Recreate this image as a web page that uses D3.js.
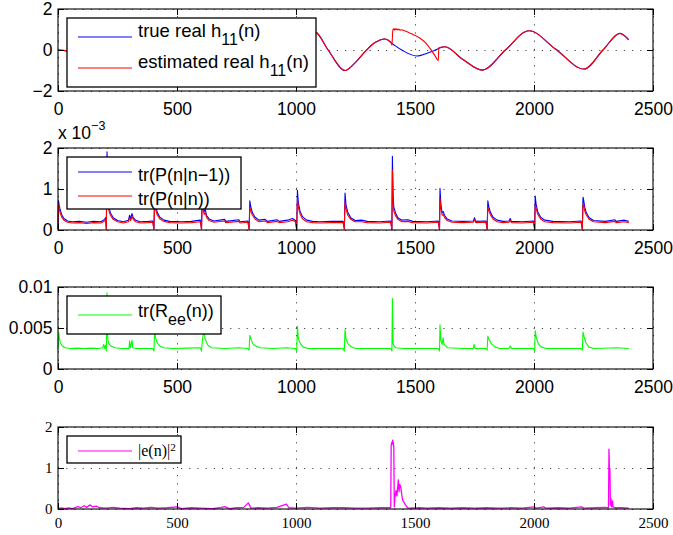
<!DOCTYPE html>
<html>
<head>
<meta charset="utf-8">
<script src="https://cdn.jsdelivr.net/npm/d3@7"></script>
<style>
  body { margin: 0; background: #fff; }
  svg { display: block; }
</style>
</head>
<body>
<svg id="chart" width="673" height="535"></svg>
<script>
// ---- dane ----
const xTicks = [0, 500, 1000, 1500, 2000, 2500];

// panel 1: Re h11(n), punkty węzłowe [n, wartość]
const hTrue = [[0,0.0],[30,-0.03],[60,-0.15],[180,-0.85],[300,-0.3],[420,0.75],[560,0.2],[700,-0.8],[860,-0.1],
  [1040,0.97],[1084,0.86],[1135,0.0],[1206,-1.0],[1250,-0.6],[1290,-0.08],[1330,0.35],[1374,0.54],[1406,0.29],
  [1444,0.0],[1507,-0.29],[1565,-0.1],[1626,0.16],[1700,-0.45],[1783,-0.98],[1880,0.0],[1979,0.94],[2090,0.05],
  [2210,-0.93],[2290,0.0],[2361,0.81],[2398,0.49]];
// fragment estymaty odbiegający od prawdziwej wartości (1398..1626)
const hEstJump = [[1398,0.4],[1403,0.24],[1405,0.6],[1407,0.98],[1410,1.04],[1413,0.97],[1416,1.05],[1419,0.99],
  [1423,1.03],[1427,0.98],[1432,1.02],[1437,0.97],[1442,0.99],[1450,0.96],[1480,0.82],[1521,0.57],[1545,0.35],
  [1563,0.08],[1585,-0.3],[1598,-0.52],[1600,0.11],[1626,0.16]];

// panel 2: tr(P), w jednostkach 1e-3
const trPpred = [[0,0.02],[2,0.72],[5,0.6],[9,0.5],[15,0.38],[25,0.28],[40,0.22],[60,0.2],[90,0.21],[120,0.19],[150,0.21],
  [180,0.2],[196,0.26],[200,0.3],[203,0.02],[206,1.91],[209,0.9],[213,0.6],[220,0.42],[232,0.3],[250,0.23],[275,0.2],
  [296,0.24],[301,0.36],[305,0.27],[311,0.4],[316,0.3],[326,0.24],[345,0.2],[380,0.21],[398,0.22],[403,0.02],[406,0.85],
  [410,0.6],[417,0.43],[428,0.31],[445,0.24],[470,0.21],[520,0.2],[560,0.21],[598,0.24],[603,0.02],[606,0.9],[609,0.62],
  [614,0.45],[619,0.5],[624,0.36],[635,0.27],[655,0.22],[700,0.26],[705,0.21],[760,0.25],[765,0.2],[798,0.22],[803,0.02],
  [806,0.71],[810,0.57],[817,0.42],[828,0.31],[845,0.24],[870,0.26],[880,0.21],[920,0.25],[930,0.21],[965,0.24],[985,0.28],
  [998,0.23],[1003,0.01],[1006,0.97],[1010,0.66],[1017,0.46],[1028,0.32],[1045,0.24],[1070,0.21],[1100,0.2],[1150,0.21],
  [1198,0.21],[1203,0.03],[1206,0.9],[1210,0.62],[1217,0.44],[1230,0.3],[1248,0.23],[1275,0.24],[1300,0.21],[1350,0.2],
  [1398,0.22],[1403,0.01],[1405,1.8],[1408,0.85],[1411,0.55],[1418,0.42],[1428,0.3],[1445,0.24],[1470,0.25],[1490,0.21],
  [1550,0.2],[1598,0.22],[1603,0.01],[1605,1.02],[1609,0.62],[1614,0.42],[1619,0.45],[1624,0.36],[1635,0.27],[1655,0.22],
  [1700,0.21],[1745,0.22],[1750,0.3],[1755,0.21],[1798,0.22],[1803,0.02],[1806,0.71],[1810,0.57],[1817,0.43],[1828,0.31],
  [1845,0.24],[1870,0.21],[1895,0.22],[1900,0.28],[1905,0.21],[1950,0.2],[1998,0.22],[2003,0.01],[2005,0.83],[2009,0.62],
  [2016,0.44],[2028,0.31],[2045,0.24],[2080,0.21],[2150,0.2],[2198,0.22],[2203,0.02],[2206,0.8],[2209,0.72],[2213,0.56],
  [2220,0.42],[2232,0.3],[2250,0.23],[2300,0.21],[2340,0.25],[2345,0.21],[2380,0.24],[2398,0.21]];
const trPfilt = [[0,0.02],[2,0.62],[5,0.52],[9,0.42],[15,0.32],[25,0.24],[40,0.19],[60,0.17],[90,0.18],[120,0.16],[150,0.18],
  [180,0.17],[196,0.22],[200,0.26],[203,0.02],[206,1.5],[209,0.75],[213,0.5],[220,0.36],[232,0.26],[250,0.2],[275,0.17],
  [296,0.2],[301,0.3],[305,0.23],[311,0.33],[316,0.26],[326,0.2],[345,0.17],[380,0.18],[398,0.19],[403,0.02],[406,0.7],
  [410,0.5],[417,0.37],[428,0.27],[445,0.21],[470,0.18],[520,0.17],[560,0.18],[598,0.2],[603,0.02],[606,0.74],[609,0.53],
  [614,0.38],[619,0.43],[624,0.31],[635,0.23],[655,0.19],[700,0.22],[705,0.18],[760,0.21],[765,0.17],[798,0.19],[803,0.02],
  [806,0.55],[810,0.47],[817,0.36],[828,0.27],[845,0.2],[870,0.22],[880,0.18],[920,0.21],[930,0.18],[965,0.2],[985,0.24],
  [998,0.2],[1003,0.01],[1006,0.76],[1010,0.55],[1017,0.39],[1028,0.27],[1045,0.2],[1070,0.18],[1100,0.17],[1150,0.18],
  [1198,0.18],[1203,0.02],[1206,0.69],[1210,0.52],[1217,0.37],[1230,0.26],[1248,0.2],[1275,0.2],[1300,0.18],[1350,0.17],
  [1398,0.19],[1403,0.01],[1405,1.46],[1408,0.7],[1411,0.46],[1418,0.35],[1428,0.26],[1445,0.2],[1470,0.21],[1490,0.18],
  [1550,0.17],[1598,0.19],[1603,0.01],[1605,0.77],[1609,0.52],[1614,0.36],[1619,0.38],[1624,0.3],[1635,0.23],[1655,0.19],
  [1700,0.18],[1745,0.19],[1750,0.26],[1755,0.18],[1798,0.19],[1803,0.02],[1806,0.55],[1810,0.48],[1817,0.37],[1828,0.27],
  [1845,0.2],[1870,0.18],[1895,0.19],[1900,0.24],[1905,0.18],[1950,0.17],[1998,0.19],[2003,0.01],[2005,0.61],[2009,0.52],
  [2016,0.38],[2028,0.27],[2045,0.2],[2080,0.18],[2150,0.17],[2198,0.19],[2203,0.02],[2206,0.65],[2209,0.6],[2213,0.47],
  [2220,0.36],[2232,0.26],[2250,0.2],[2300,0.18],[2340,0.21],[2345,0.18],[2380,0.2],[2398,0.18]];

// panel 3: tr(Ree(n))
const trRee = [[0,0.0024],[3,0.0045],[6,0.0037],[10,0.0032],[18,0.0028],[30,0.0026],[50,0.0025],[80,0.00255],[110,0.0025],
  [140,0.00255],[170,0.0025],[188,0.0026],[192,0.0030],[196,0.0025],[200,0.0029],[203,0.0022],[206,0.0093],[209,0.0036],
  [214,0.0031],[222,0.0028],[240,0.0026],[270,0.0025],[298,0.0025],[301,0.0034],[304,0.0026],[311,0.0035],[314,0.0026],
  [330,0.0025],[398,0.0025],[403,0.0022],[406,0.0046],[410,0.0038],[417,0.0032],[428,0.0028],[445,0.0026],[480,0.0025],
  [540,0.00255],[598,0.0026],[603,0.0022],[606,0.0033],[610,0.0042],[614,0.0050],[617,0.0038],[622,0.0034],[630,0.0029],
  [645,0.0026],[700,0.0025],[760,0.0026],[798,0.0025],[803,0.0023],[806,0.0041],[810,0.0037],[818,0.0031],[830,0.0028],
  [850,0.0026],[900,0.0025],[960,0.0026],[998,0.0025],[1003,0.0022],[1006,0.0052],[1010,0.0037],[1018,0.0031],[1030,0.0027],
  [1050,0.0025],[1100,0.0025],[1198,0.0025],[1203,0.0022],[1206,0.0048],[1210,0.0037],[1218,0.0031],[1232,0.0027],
  [1250,0.0025],[1398,0.0025],[1403,0.0022],[1405,0.0086],[1408,0.0031],[1412,0.0028],[1420,0.0026],[1450,0.0025],
  [1598,0.0025],[1603,0.0022],[1605,0.0054],[1609,0.0035],[1614,0.0030],[1618,0.0038],[1622,0.0030],[1635,0.0026],
  [1700,0.0025],[1745,0.0025],[1748,0.0030],[1752,0.0025],[1798,0.0025],[1803,0.0023],[1806,0.0040],[1810,0.0037],
  [1820,0.0031],[1835,0.0027],[1855,0.0025],[1895,0.0025],[1900,0.0028],[1905,0.0025],[1998,0.0025],[2003,0.0022],
  [2005,0.0047],[2009,0.0039],[2018,0.0031],[2030,0.0027],[2050,0.0025],[2198,0.0025],[2203,0.0023],[2206,0.0045],
  [2210,0.0040],[2218,0.0032],[2230,0.0027],[2250,0.0025],[2350,0.0026],[2398,0.0025]];

// panel 4: |e(n)|^2
const errSq = [[0,0.01],[15,0.03],[30,0.01],[45,0.03],[60,0.01],[75,0.04],[85,0.06],[95,0.03],[110,0.08],[120,0.04],
  [135,0.1],[145,0.05],[160,0.07],[175,0.03],[200,0.02],[230,0.04],[260,0.02],[300,0.01],[330,0.03],[360,0.02],[390,0.04],
  [420,0.02],[460,0.03],[500,0.05],[520,0.01],[560,0.03],[600,0.02],[650,0.01],[680,0.03],[700,0.06],[720,0.01],[750,0.03],
  [780,0.04],[800,0.15],[810,0.02],[840,0.03],[880,0.02],[920,0.04],[960,0.12],[970,0.03],[1000,0.02],[1050,0.04],
  [1100,0.02],[1150,0.03],[1200,0.03],[1250,0.02],[1300,0.02],[1350,0.03],[1398,0.03],[1400,1.55],[1402,1.62],[1404,1.58],
  [1406,1.68],[1409,1.6],[1411,1.5],[1413,0.05],[1416,0.3],[1420,0.45],[1424,0.32],[1428,0.58],[1430,0.71],[1433,0.42],
  [1436,0.6],[1440,0.55],[1444,0.36],[1448,0.22],[1455,0.15],[1462,0.08],[1470,0.02],[1520,0.03],[1550,0.02],[1600,0.03],
  [1650,0.02],[1700,0.03],[1750,0.02],[1800,0.03],[1850,0.02],[1900,0.03],[1950,0.02],[2000,0.05],[2010,0.02],[2040,0.05],
  [2050,0.02],[2100,0.03],[2150,0.02],[2200,0.05],[2210,0.02],[2260,0.03],[2300,0.04],[2313,0.03],[2315,1.46],[2317,1.0],
  [2319,0.99],[2321,0.1],[2323,0.25],[2326,0.05],[2330,0.2],[2332,0.05],[2340,0.03],[2370,0.03],[2398,0.02]];

// estymata = prawdziwa poza skokiem
const hEst = hTrue.filter(d => d[0] < 1398)
  .concat(hEstJump)
  .concat(hTrue.filter(d => d[0] > 1626));

// ---- wygląd ----
const SANS = "'Liberation Sans', Arial, Helvetica, sans-serif";
const SERIF = "'Liberation Serif', 'Times New Roman', serif";
const LEFT = 58, RIGHT = 653, PH = 82;

const svg = d3.select("#chart");
const x = d3.scaleLinear().domain([0, 2500]).range([LEFT, RIGHT]);

const panels = [
  { top: 9, domain: [-2, 2], yTicks: [-2, 0, 2], font: SANS, size: 17.5,
    fmt: d => d < 0 ? "\u2212" + (-d) : String(d), curve: d3.curveMonotoneX,
    series: [{ data: hTrue, color: "#0000ff" }, { data: hEst, color: "#ff0000" }],
    legend: { x: 67, y: 18, w: 249, h: 69, dy: 0, lines: [37, 68], size: 18.5, sub: 16,
      items: [
        [{ t: "true real h" }, { t: "11", sub: 1 }, { t: "(n)" }],
        [{ t: "estimated real h" }, { t: "11", sub: 1 }, { t: "(n)" }]
      ] } },
  { top: 148, domain: [0, 2], yTicks: [0, 1, 2], font: SANS, size: 17.5,
    fmt: d => String(d), curve: d3.curveLinear,
    series: [{ data: trPpred, color: "#0000ff" }, { data: trPfilt, color: "#ff0000" }],
    legend: { x: 67, y: 157, w: 174, h: 52, dy: 8.5, lines: [172, 196],
      items: [
        [{ t: "tr(P(n|n\u22121))" }],
        [{ t: "tr(P(n|n))" }]
      ] } },
  { top: 287, domain: [0, 0.01], yTicks: [0, 0.005, 0.01], font: SANS, size: 17.5,
    fmt: d => String(d), curve: d3.curveLinear,
    series: [{ data: trRee, color: "#00ff00" }],
    legend: { x: 67, y: 296, w: 154, h: 38, dy: 2, lines: [315], sub: 16,
      items: [
        [{ t: "tr(R" }, { t: "ee", sub: 1 }, { t: "(n))" }]
      ] } },
  { top: 427, domain: [0, 2], yTicks: [0, 1, 2], font: SERIF, size: 15,
    fmt: d => String(d), curve: d3.curveLinear, width: 1.3,
    series: [{ data: errSq, color: "#ff00ff" }],
    legend: { x: 67, y: 436, w: 114, h: 27, dy: 4.5, lines: [451], size: 16,
      items: [
        [{ t: "|e(n)|" }, { t: "2", sup: 1 }]
      ] } }
];

panels.forEach(function(p) {
  const y = d3.scaleLinear().domain(p.domain).range([p.top + PH, p.top]);
  const g = svg.append("g");
  const bottom = p.top + PH;

  // siatka (kropkowana)
  const gridX = g.append("g").attr("transform", `translate(0,${bottom})`)
    .call(d3.axisBottom(x).tickValues(xTicks).tickSize(-PH).tickFormat(""));
  const gridY = g.append("g").attr("transform", `translate(${LEFT},0)`)
    .call(d3.axisLeft(y).tickValues(p.yTicks).tickSize(-(RIGHT - LEFT)).tickFormat(""));
  [gridX, gridY].forEach(gg => {
    gg.select(".domain").remove();
    gg.selectAll("line").attr("stroke", "#333").attr("stroke-width", 0.9).attr("stroke-dasharray", "1.2,7");
  });

  // linie danych
  const line = d3.line().x(d => x(d[0])).y(d => y(d[1])).curve(p.curve);
  p.series.forEach(s => {
    g.append("path").datum(s.data)
      .attr("fill", "none").attr("stroke", s.color)
      .attr("stroke-width", p.width || 1.1)
      .attr("stroke-linejoin", "round")
      .attr("d", line);
  });

  // osie z kreskami do środka
  const tickPadX = p.font === SERIF ? 8.5 : 11.3;
  const axB = g.append("g").attr("transform", `translate(0,${bottom})`)
    .call(d3.axisBottom(x).tickValues(xTicks).tickSizeInner(-6).tickSizeOuter(0).tickPadding(tickPadX).tickFormat(d3.format("d")));
  const axT = g.append("g").attr("transform", `translate(0,${p.top})`)
    .call(d3.axisTop(x).tickValues(xTicks).tickSizeInner(-6).tickSizeOuter(0).tickFormat(""));
  const axL = g.append("g").attr("transform", `translate(${LEFT},0)`)
    .call(d3.axisLeft(y).tickValues(p.yTicks).tickSizeInner(-6).tickSizeOuter(0).tickPadding(5.5).tickFormat(p.fmt));
  const axR = g.append("g").attr("transform", `translate(${RIGHT},0)`)
    .call(d3.axisRight(y).tickValues(p.yTicks).tickSizeInner(-6).tickSizeOuter(0).tickFormat(""));
  [axB, axT, axL, axR].forEach(a => {
    a.select(".domain").remove();
    a.selectAll("line").attr("stroke", "#000").attr("stroke-width", 1);
    a.selectAll("text").attr("fill", "#000").style("font-family", p.font).style("font-size", p.size + "px");
  });

  g.append("rect")
    .attr("x", LEFT).attr("y", p.top).attr("width", RIGHT - LEFT).attr("height", PH)
    .attr("fill", "none").attr("stroke", "#000").attr("stroke-width", 1.1);

  // legenda
  const L = p.legend;
  const lg = g.append("g");
  lg.append("rect").attr("x", L.x).attr("y", L.y).attr("width", L.w).attr("height", L.h)
    .attr("fill", "#fff").attr("stroke", "#000").attr("stroke-width", 1.3);
  const fs = L.size || 18;
  const subFs = L.sub || fs * 0.7;
  L.items.forEach((parts, i) => {
    const ly = L.lines[i];
    lg.append("line").attr("x1", 78).attr("x2", 132).attr("y1", ly).attr("y2", ly)
      .attr("stroke", p.series[i].color).attr("stroke-width", 1.1);
    const t = lg.append("text").attr("x", 138).attr("y", ly + L.dy)
      .style("font-family", p.font).style("font-size", fs + "px").attr("fill", "#000");
    let shift = 0;
    parts.forEach(part => {
      const ts = t.append("tspan").text(part.t);
      if (part.sub) { ts.style("font-size", subFs + "px").attr("dy", 8 - shift); shift = 8; }
      else if (part.sup) { ts.style("font-size", subFs + "px").attr("dy", -5 - shift); shift = -5; }
      else { if (shift) ts.attr("dy", -shift); shift = 0; }
    });
  });
});

// mnożnik osi panelu 2
const mult = svg.append("text").attr("x", 58).attr("y", 139)
  .style("font-family", SANS).style("font-size", "17.5px").attr("fill", "#000");
mult.append("tspan").text("x 10");
mult.append("tspan").attr("dy", -9).style("font-size", "12.5px").text("\u22123");
</script>
</body>
</html>
